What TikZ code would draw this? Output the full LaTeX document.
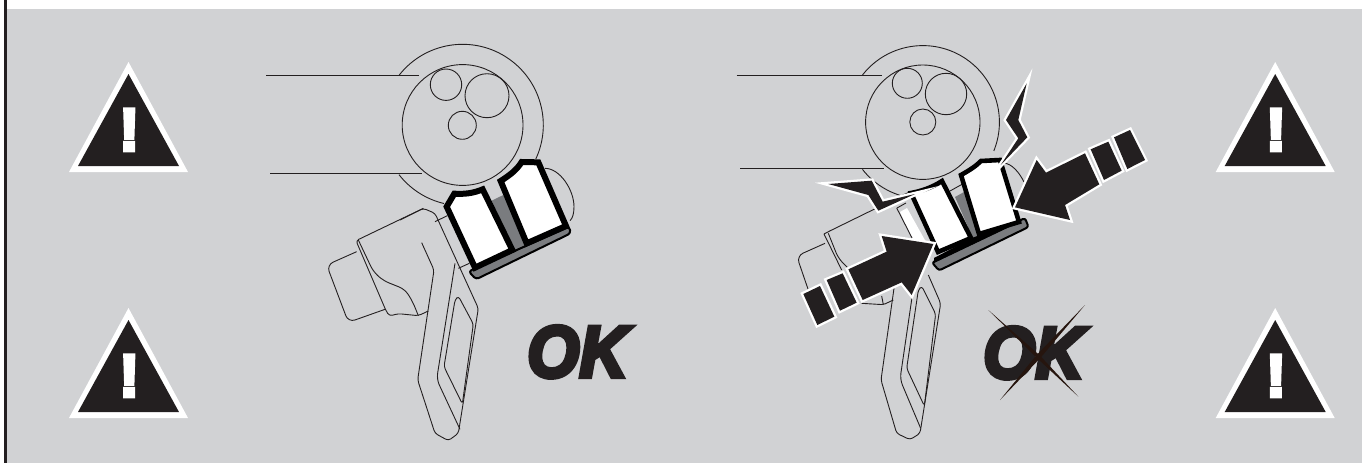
\documentclass[tikz,border=0pt]{standalone}
\usepackage{fontspec}
\setmainfont{Liberation Sans}
\newfontfamily\okfont{Liberation Sans}[BoldItalicFeatures={FakeBold=6}]
\newfontfamily\exfont{Liberation Sans}[BoldFeatures={FakeBold=6}]
\definecolor{bgc}{HTML}{D1D2D4}
\definecolor{ink}{HTML}{231F20}
\definecolor{plate}{HTML}{7A7C7F}
\definecolor{xc}{HTML}{26150E}
\tikzset{
 thinline/.style={draw=ink,line width=0.9pt,line join=round},
 btn/.style={draw=black,fill=white,line width=6pt,line join=miter,miter limit=3},
 plt/.style={draw=black,fill=plate,line width=2pt,line join=round},
 hit/.style={fill=ink,preaction={draw=white,line width=4.6pt,line join=miter,miter limit=12}},
 zone/.style={x=0.33333pt,y=-0.33333pt},
 oktext/.style={anchor=base west,inner sep=0,text=ink,xscale=0.92,transform shape,font=\okfont\bfseries\itshape\fontsize{73}{73}\selectfont},
}
\newcommand{\warnsign}[3]{%
 \begin{scope}[shift={(#1,#2)}]
  \fill[white] (128.5,62) -- (188,172) -- (69,172) -- cycle;
  \fill[ink] (128.5,74) -- (179,166) -- (78,166) -- cycle;
  \node[anchor=base,inner sep=0,text=white,font=\exfont\bfseries\fontsize{60}{60}\selectfont] (#3) at (129.3,150.5) {!};
 \end{scope}}
\begin{document}
\begin{tikzpicture}[x=1pt,y=-1pt]
\useasboundingbox (0,0) rectangle (1362,463);
\fill[white] (0,0) rectangle (1362,463);
\fill[bgc] (7,9) rectangle (1362,463);
\fill[ink] (4,0) rectangle (7,463);
\warnsign{0}{0}{wa}
\warnsign{0}{246}{wb}
\warnsign{1146.7}{0}{wc}
\warnsign{1146.7}{246}{wd}

% ---------- left assembly
\begin{scope}[shift={(320,220)},zone]
 \draw[thinline,rounded corners=7pt] (110,95) -- (20,135) -- (85,307) -- (195,268);
 \draw[thinline,rounded corners=3pt] (240,0) -- (310,-35) -- (345,-20) -- (475,265) -- (415,640) -- (385,662) -- (345,640) -- (293,480) -- (342,150) -- (305,68);
 \draw[thinline,rounded corners=3pt] (310,-35) -- (108,62) -- (198,272) -- (208,288) -- (235,281) -- (295,287) -- (325,273);
 \draw[thinline,rounded corners=6pt] (115,60) -- (160,155) -- (190,182) -- (255,208) -- (278,245) -- (295,287);
 \draw[thinline,rounded corners=6pt] (405,130) -- (350,478) -- (420,628);
 \draw[thinline,rounded corners=3pt] (415,228) -- (460,312) -- (427,552) -- (372,440) -- (405,240) -- cycle;
\end{scope}
\draw[thinline] (266,75.7) -- (419.3,75.7);
\draw[thinline] (270,173.7) -- (422,173.7);
\draw[thinline] (462.6,125) circle[radius=60.4pt];
\draw[thinline] (446,84.7) circle[radius=15.7pt];
\draw[thinline] (487,95.7) circle[radius=22pt];
\draw[thinline] (462.3,125.3) circle[radius=14pt];
\draw[thinline] (462.6,125) ++(141.7:80.7pt) arc[start angle=141.7,end angle=-25,radius=80.7pt];
\draw[thinline] (462.6,125) ++(218:80.7pt) arc[start angle=218,end angle=256.7,radius=80.7pt];
\begin{scope}[shift={(260,50)},zone]
 \draw[thinline] (855,355) .. controls (900,355) and (942,420) .. (942,470) .. controls (942,490) and (938,505) .. (930,512);
 \draw[thinline] (525,515) -- (562,497);
 \draw[thinline] (595,655) -- (628,640);
 \fill[plate] (695,452) -- (730,435) -- (800,590) -- (765,605) -- cycle;
 \draw[plt,rounded corners=3pt] (626,664) -- (928,530) -- (932,550) -- (648,688) -- cycle;
 \draw[btn] (560,470) -- (583,431) .. controls (612,433) and (640,430) .. (668,418) -- (757,600) -- (645,653) -- cycle;
 \draw[btn] (722,393) .. controls (750,375) and (770,360) .. (785,336) -- (835,337) -- (918,528) -- (800,580) -- cycle;
\end{scope}
\node[oktext] (oka) at (527,377) {OK};

% ---------- right assembly
\begin{scope}[shift={(770,220)},zone]
 \draw[thinline,rounded corners=7pt] (165,70) -- (80,108) -- (115,210);
 \draw[thinline,rounded corners=3pt] (162,42) -- (175,35) -- (420,-85);
 \draw[thinline] (162,42) -- (215,150);
 \draw[thinline,rounded corners=6pt] (175,40) -- (205,115) -- (235,145);
 \draw[thinline,rounded corners=2pt] (275,250) -- (340,254) -- (370,240);
 \draw[thinline] (335,228) -- (340,254);
 \draw[thinline,rounded corners=3pt] (475,165) -- (512,250) -- (450,640) -- (420,659) -- (380,640) -- (333,480) -- (372,205);
 \draw[thinline,rounded corners=6pt] (430,205) -- (390,478) -- (452,625);
 \draw[thinline,rounded corners=3pt] (455,198) -- (497,282) -- (463,558) -- (410,445) -- (445,210) -- cycle;
\end{scope}
\draw[thinline] (736.7,75.3) -- (881.7,75.3);
\draw[thinline] (740,168) -- (884.3,168);
\draw[thinline] (922.8,122.2) circle[radius=57.2pt];
\draw[thinline] (907.3,83.3) circle[radius=15pt];
\draw[thinline] (946,94) circle[radius=20.7pt];
\draw[thinline] (922.8,122) circle[radius=13pt];
\draw[thinline] (922.8,122.2) ++(142:76.6pt) arc[start angle=142,end angle=-22,radius=76.6pt];
\draw[thinline] (922.8,122.2) ++(218:76.6pt) arc[start angle=218,end angle=258,radius=76.6pt];
\draw[thinline] (1004,163) .. controls (1012,164) and (1019,172) .. (1024,182);
% sliver and thin lines beside the left button
\fill[white] (900,212) -- (907,208) -- (926,242) -- (915,245) -- cycle;
\draw[thinline] (896.7,208) -- (912,238);
\draw[thinline] (897,208) -- (906,203);
\draw[thinline] (950,191) -- (968,181);
\fill[plate] (955,197) -- (964,192) -- (985,237) -- (975,243) -- cycle;
\draw[plt,rounded corners=2.5pt] (932,262.5) -- (1025,218) -- (1028.5,227) -- (939,270.5) -- cycle;
\fill[black] (934,258) -- (972,238) -- (1019,220) -- (1022,221) -- (934,263) -- cycle;
\draw[draw=black,fill=white,line width=4.6pt,line join=miter,miter limit=3] (911,193) .. controls (922,191) and (933,187) .. (942,181) -- (971,238) -- (938,252) -- cycle;
\draw[btn,line width=4.6pt] (961,175) .. controls (970,170) and (976,166) .. (981,161) -- (1000,160) -- (1019,222) -- (979,234) -- cycle;
% lightning
\fill[hit] (1026.7,83.3) -- (1006,120) -- (1018.3,138.3) -- (1000.7,165) -- (1027.3,137.3) -- (1018.3,120) -- cycle;
\begin{scope}[shift={(800,140)},zone]
 \fill[hit] (85,132) -- (215,122) -- (248,185) -- (345,162) -- (235,212) -- (205,165) -- cycle;
\end{scope}
% arrows
\begin{scope}[shift={(730,50)},zone]
 \fill[hit] (855,472) -- (920,330) -- (948,368) -- (1065,310) -- (1108,403) -- (1005,465) -- (1020,510) -- cycle;
 \fill[hit] (1082,298) -- (1135,275) -- (1175,362) -- (1122,390) -- cycle;
 \fill[hit] (1152,262) -- (1200,240) -- (1245,330) -- (1192,357) -- cycle;
\end{scope}
\begin{scope}[shift={(770,220)},zone]
 \fill[hit] (490,72) -- (335,48) -- (350,95) -- (235,148) -- (278,240) -- (395,187) -- (425,225) -- cycle;
 \fill[hit] (170,180) -- (218,160) -- (260,248) -- (210,272) -- cycle;
 \fill[hit] (100,222) -- (150,198) -- (193,290) -- (142,315) -- cycle;
\end{scope}
\node[oktext] (okb) at (983,378) {OK};
\begin{scope}[shift={(770,220)},zone]
 \fill[xc] (655,270) -- (809,406) -- (925,530) -- (801,414) -- cycle;
 \fill[xc] (945,255) -- (811,414) -- (690,540) -- (799,406) -- cycle;
\end{scope}
\end{tikzpicture}
\end{document}
